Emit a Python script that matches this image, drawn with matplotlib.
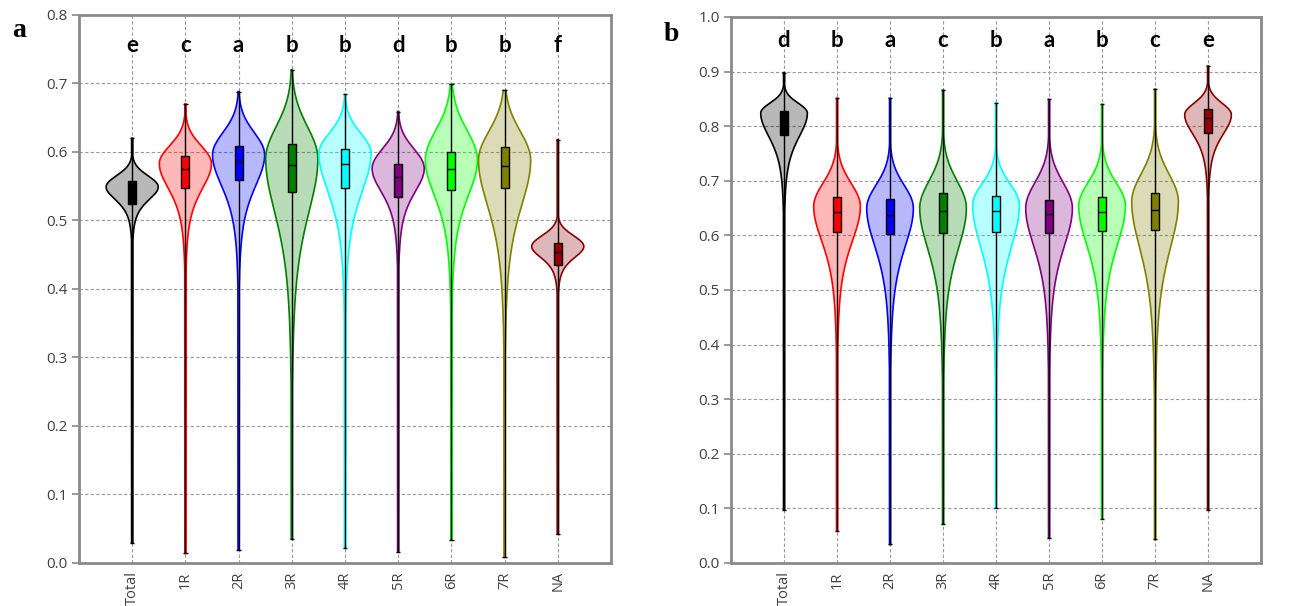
import matplotlib
matplotlib.use("Agg")
import matplotlib.pyplot as plt
import numpy as np
from matplotlib.patches import Rectangle

categories = ["Total", "1R", "2R", "3R", "4R", "5R", "6R", "7R", "NA"]
line_colors = ["black", "red", "blue", "green", "cyan", "purple", "lime", "olive", "darkred"]
box_colors = ["black", "red", "blue", "green", "cyan", "purple", "lime", "olive", "#990000"]

# panel a
a_letters = ["e", "c", "a", "b", "b", "d", "b", "b", "f"]
a_min = [0.029, 0.014, 0.019, 0.035, 0.022, 0.016, 0.034, 0.008, 0.042]
a_q1 = [0.524, 0.548, 0.559, 0.541, 0.548, 0.534, 0.545, 0.548, 0.435]
a_med = [0.540, 0.575, 0.587, 0.581, 0.582, 0.563, 0.575, 0.580, 0.454]
a_q3 = [0.557, 0.594, 0.609, 0.612, 0.605, 0.582, 0.600, 0.607, 0.467]
a_max = [0.620, 0.670, 0.688, 0.720, 0.684, 0.659, 0.699, 0.690, 0.618]
a_peak = [0.549, 0.583, 0.596, 0.590, 0.598, 0.576, 0.588, 0.588, 0.462]
a_top = [0.584, 0.639, 0.665, 0.690, 0.661, 0.637, 0.681, 0.678, 0.496]   # width ~10% above peak
a_low = [0.512, 0.510, 0.505, 0.433, 0.485, 0.508, 0.485, 0.455, 0.430]   # width ~25% below peak

# panel b
b_letters = ["d", "b", "a", "c", "b", "a", "b", "c", "e"]
b_min = [0.097, 0.059, 0.034, 0.071, 0.101, 0.046, 0.081, 0.043, 0.097]
b_q1 = [0.783, 0.606, 0.603, 0.605, 0.606, 0.604, 0.608, 0.609, 0.788]
b_med = [0.805, 0.642, 0.637, 0.645, 0.645, 0.639, 0.642, 0.647, 0.815]
b_q3 = [0.828, 0.671, 0.667, 0.677, 0.672, 0.664, 0.670, 0.678, 0.831]
b_max = [0.898, 0.851, 0.851, 0.866, 0.843, 0.849, 0.840, 0.868, 0.910]
b_peak = [0.824, 0.653, 0.650, 0.650, 0.656, 0.650, 0.654, 0.662, 0.821]
b_top = [0.863, 0.744, 0.740, 0.756, 0.738, 0.750, 0.745, 0.769, 0.866]
b_low = [0.738, 0.525, 0.510, 0.500, 0.500, 0.510, 0.510, 0.490, 0.750]


def violin_shape(y, peak, top, low):
    su = (top - peak) / 2.146          # gaussian above the peak
    sl = (peak - low) / 1.722          # t (nu=4) below the peak
    d = y - peak
    up = np.exp(-0.5 * (d / su) ** 2)
    dn = (1 + d ** 2 / (4 * sl ** 2)) ** -2.5
    return np.maximum(np.where(d >= 0, up, dn), 0.022)


def draw_panel(ax, mins, q1s, meds, q3s, maxs, peaks, tops, lows, letters,
               ymax, vwidth, bwidth, letter_y):
    for i in range(len(categories)):
        x = i + 1
        y = np.linspace(mins[i], maxs[i], 600)
        hw = violin_shape(y, peaks[i], tops[i], lows[i]) * vwidth / 2
        c = line_colors[i]
        ax.fill_betweenx(y, x - hw, x + hw, facecolor=c, alpha=0.28,
                         edgecolor="none", zorder=2)
        ax.plot(x - hw, y, color=c, lw=1.2, zorder=3)
        ax.plot(x + hw, y, color=c, lw=1.2, zorder=3)
        ax.vlines(x, mins[i], maxs[i], color="black", lw=1.0, zorder=4)
        ax.hlines([mins[i], maxs[i]], x - 0.04, x + 0.04, color="black", lw=1.0, zorder=4)
        ax.add_patch(Rectangle((x - bwidth / 2, q1s[i]), bwidth, q3s[i] - q1s[i],
                               facecolor=box_colors[i], edgecolor="black", lw=1.0, zorder=5))
        ax.hlines(meds[i], x - bwidth / 2, x + bwidth / 2, color="black", lw=1.0, zorder=6)
        ax.text(x, letter_y, letters[i], ha="center", va="baseline", fontsize=16,
                fontweight="bold", family="Lato", color="black")

    ax.set_xlim(0, 10)
    ax.set_ylim(0, ymax)
    ax.set_xticks(range(1, len(categories) + 1))
    ax.set_xticklabels(categories, rotation=90, family="Open Sans", fontsize=10.5, color="#404040")
    ax.set_yticks(np.arange(0, ymax + 0.001, 0.1))
    ax.set_yticklabels([f"{v:.1f}" for v in np.arange(0, ymax + 0.001, 0.1)],
                       family="Open Sans", fontsize=11, color="#404040")
    ax.tick_params(axis="x", length=0, pad=6)
    ax.tick_params(axis="y", length=5, width=1.2, color="#888888", pad=3)
    ax.grid(True, linestyle=(0, (3, 2)), color="#999999", lw=0.8)
    ax.set_axisbelow(True)
    for s in ax.spines.values():
        s.set_color("#8a8a8a")
        s.set_linewidth(2)


fig = plt.figure(figsize=(13.08, 6.06), dpi=100)
ax1 = fig.add_axes([0.0604, 0.0710, 0.4067, 0.9043])
ax2 = fig.add_axes([0.5589, 0.0710, 0.4052, 0.9010])

draw_panel(ax1, a_min, a_q1, a_med, a_q3, a_max, a_peak, a_top, a_low, a_letters,
           0.8, 0.98, 0.15, 0.746)
draw_panel(ax2, b_min, b_q1, b_med, b_q3, b_max, b_peak, b_top, b_low, b_letters,
           1.0, 0.88, 0.14, 0.945)

fig.text(12 / 1308, 1 - 37 / 606, "a", family="Liberation Serif", fontweight="bold", fontsize=20)
fig.text(664 / 1308, 1 - 41 / 606, "b", family="Liberation Serif", fontweight="bold", fontsize=20)

fig.savefig("out.png", dpi=100)
